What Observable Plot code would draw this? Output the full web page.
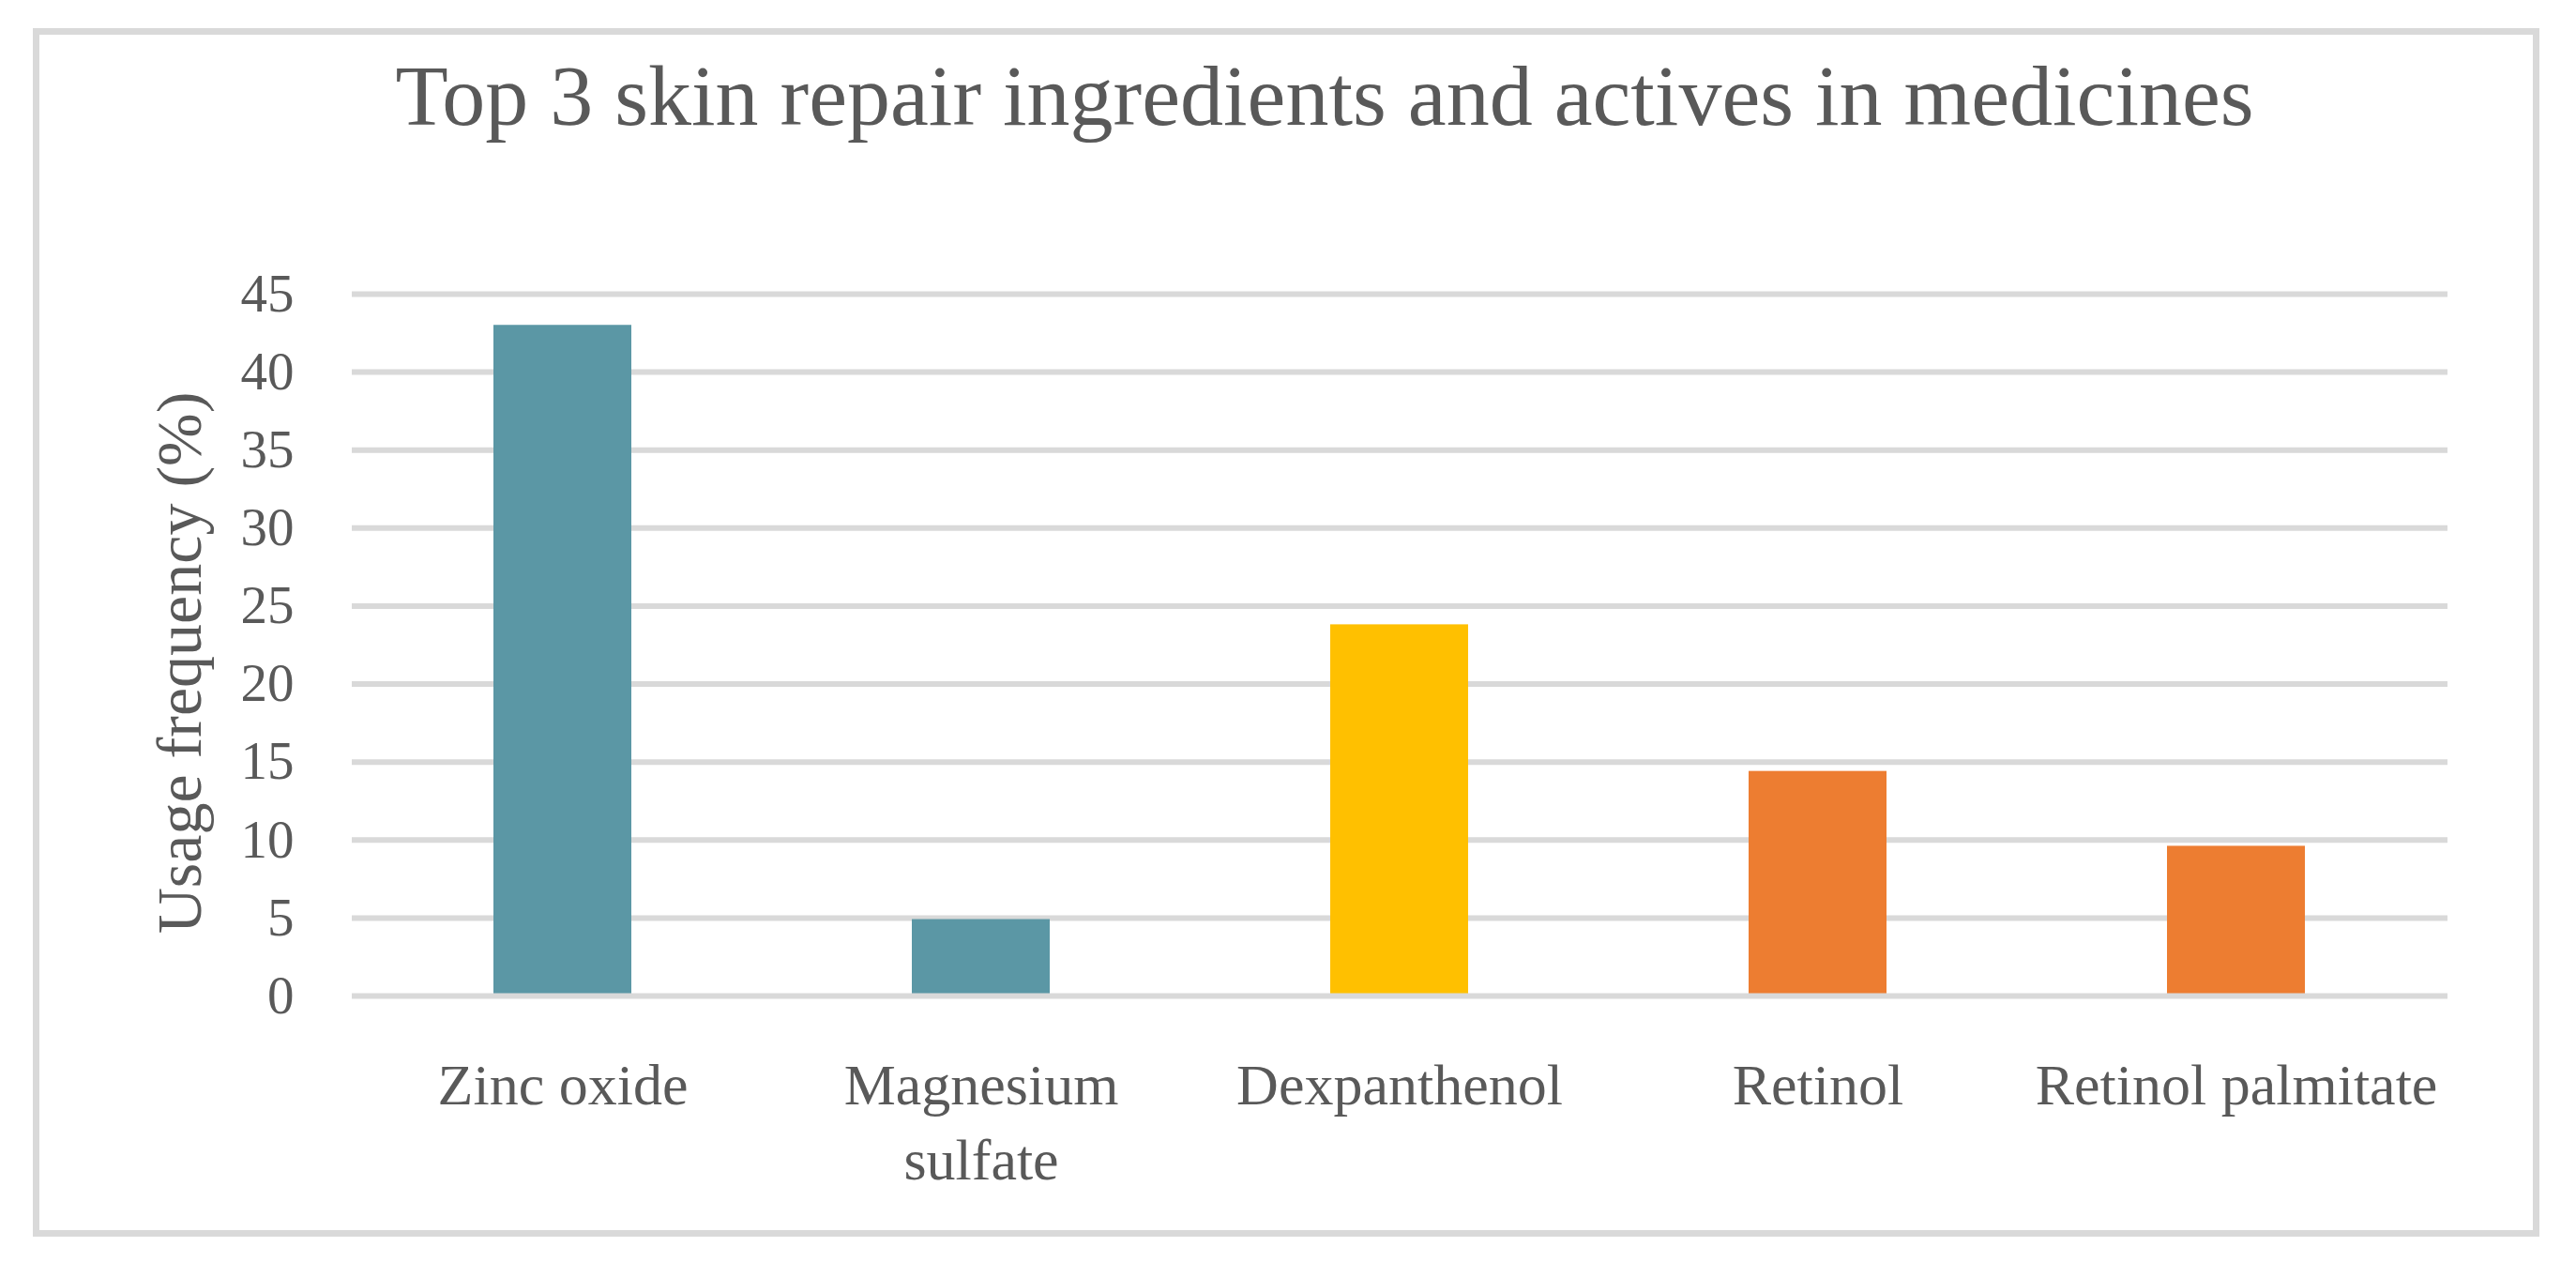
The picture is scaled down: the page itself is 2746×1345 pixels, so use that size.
<!DOCTYPE html>
<html>
<head>
<meta charset="utf-8">
<script src="https://cdn.jsdelivr.net/npm/d3@7"></script>
<script src="https://cdn.jsdelivr.net/npm/@observablehq/plot@0.6"></script>
<style>
  html, body { margin: 0; padding: 0; background: #fff; }
  #wrap { position: relative; width: 2746px; height: 1345px; overflow: hidden; background: #fff; }
  #border { position: absolute; left: 35px; top: 30px; width: 2672px; height: 1288px; box-sizing: border-box; border: 7px solid #d9d9d9; }
  #title { position: absolute; left: 78px; width: 2668px; top: 56px; text-align: center; font-family: "Liberation Serif", serif; font-size: 92px; line-height: 1; color: #595959; white-space: nowrap; }
  #chart { position: absolute; left: 0; top: 0; }
</style>
</head>
<body>
<div id="wrap">
  <div id="border"></div>
  <div id="title">Top 3 skin repair ingredients and actives in medicines</div>
  <div id="chart"></div>
</div>
<script>
const categories = ["Zinc oxide", "Magnesium sulfate", "Dexpanthenol", "Retinol", "Retinol palmitate"];
const tickLabels = ["Zinc oxide", "Magnesium\nsulfate", "Dexpanthenol", "Retinol", "Retinol palmitate"];
const values = [43, 4.9, 23.8, 14.4, 9.6];
const groups = ["group A", "group A", "group B", "group C", "group C"];
const yTicks = [0, 5, 10, 15, 20, 25, 30, 35, 40, 45];
const yLabel = "Usage frequency (%)";

const groupNames = ["group A", "group B", "group C"];
const groupColors = ["#5B97A5", "#FFC000", "#ED7D31"];
const data = categories.map((c, i) => ({category: c, value: values[i], group: groups[i]}));
const labelOf = new Map(categories.map((c, i) => [c, tickLabels[i]]));

const chart = Plot.plot({
  width: 2746,
  height: 1345,
  marginLeft: 375,
  marginRight: 137,
  marginTop: 313,
  marginBottom: 284,
  style: {fontFamily: "Liberation Serif, serif", color: "#595959", background: "transparent"},
  x: {domain: categories, paddingInner: 0.67, paddingOuter: 0.335},
  y: {domain: [0, 45]},
  color: {type: "ordinal", domain: groupNames, range: groupColors},
  marks: [
    Plot.ruleY(yTicks.filter(d => d > 0), {stroke: "#d9d9d9", strokeWidth: 6}),
    Plot.barY(data, {x: "category", y: "value", fill: "group"}),
    Plot.ruleY([0], {stroke: "#d9d9d9", strokeWidth: 6}),
    Plot.axisY({ticks: yTicks, tickSize: 0, tickPadding: 62, fontSize: 57, label: null, tickFormat: d => String(d)}),
    Plot.axisX({tickSize: 0, tickPadding: 59, fontSize: 62, lineHeight: 1.29, label: null, tickFormat: d => labelOf.get(d)}),
    Plot.text([yLabel], {frameAnchor: "left", rotate: -90, textAnchor: "middle", lineAnchor: "top", fontSize: 68, dx: -210, dy: 19, fill: "#595959"})
  ]
});
document.getElementById("chart").appendChild(chart);
</script>
</body>
</html>
